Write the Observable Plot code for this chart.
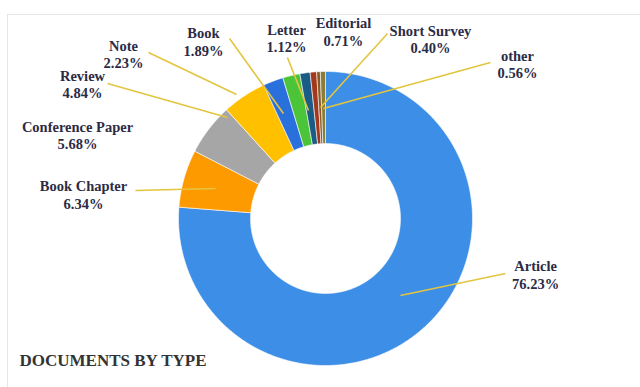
<!DOCTYPE html>
<html>
<head>
<meta charset="utf-8">
<script src="https://cdn.jsdelivr.net/npm/d3@7"></script>
<script src="https://cdn.jsdelivr.net/npm/@observablehq/plot@0.6"></script>
<style>
  html, body { margin: 0; padding: 0; background: #fff; }
  #wrap { position: relative; width: 640px; height: 387px; overflow: hidden; }
  #edge { position: absolute; left: 7px; top: 14px; right: 0; bottom: 0;
          border-top: 1px solid #e6e6e6; border-left: 1px solid #e6e6e6; pointer-events: none; }
</style>
</head>
<body>
<div id="wrap"><div id="edge"></div></div>
<script>
// ---- data ----
const types = ["Article", "Book Chapter", "Conference Paper", "Review", "Note", "Book", "Letter", "Editorial", "Short Survey", "other"];
const shares = [76.23, 6.34, 5.68, 4.84, 2.23, 1.89, 1.12, 0.71, 0.40, 0.56];
const pctLabels = ["76.23%", "6.34%", "5.68%", "4.84%", "2.23%", "1.89%", "1.12%", "0.71%", "0.40%", "0.56%"];
const title = "DOCUMENTS BY TYPE";

// ---- styles ----
const palette = ["#3d8ee6", "#fd9a00", "#a6a6a6", "#ffc000", "#2a70dc", "#4cc43a", "#1b5c86", "#a3381c", "#8b5a24", "#8a7d35"];

// ---- layout (chart units: radius of donut = 1) ----
const innerRadius = 0.51;
const labelX = [1.429, -1.646, -1.687, -1.653, -1.374, -0.830, -0.265, 0.122, 0.714, 1.306];
const labelY = [-0.381, 0.163, 0.568, 0.912, 1.119, 1.204, 1.228, 1.272, 1.218, 1.051];
// leader lines: [x1, y1, x2, y2] or null
const leaders = [
  [1.224, -0.374, 0.510, -0.524],
  [-1.293, 0.190, -0.748, 0.204],
  null,
  [-1.483, 0.918, -0.667, 0.687],
  [-1.204, 1.129, -0.605, 0.844],
  [-0.653, 1.224, -0.286, 0.714],
  [-0.259, 1.095, -0.116, 0.735],
  null,
  [0.422, 1.259, -0.034, 0.755],
  [1.122, 1.061, -0.014, 0.748]
];

// ---- build slice outlines from pie angles ----
const arcs = d3.pie().sort(null).value(d => d)(shares);
const slicePts = [];
arcs.forEach((a, i) => {
  const n = Math.max(4, Math.ceil((a.endAngle - a.startAngle) / 0.01));
  const pts = [];
  for (let k = 0; k <= n; k++) {
    const t = a.startAngle + (a.endAngle - a.startAngle) * k / n;
    pts.push({type: types[i], x: Math.sin(t), y: Math.cos(t)});
  }
  for (let k = n; k >= 0; k--) {
    const t = a.startAngle + (a.endAngle - a.startAngle) * k / n;
    pts.push({type: types[i], x: innerRadius * Math.sin(t), y: innerRadius * Math.cos(t)});
  }
  pts.push({...pts[0]});
  slicePts.push(...pts);
});

const labels = types.map((t, i) => ({text: t + "\n" + pctLabels[i], x: labelX[i], y: labelY[i]}));
const links = leaders.map((l, i) => l && {type: types[i], x1: l[0], y1: l[1], x2: l[2], y2: l[3]}).filter(Boolean);

const font = "Liberation Serif, Times New Roman, serif";

const chart = Plot.plot({
  width: 640,
  height: 387,
  margin: 0,
  style: {background: "transparent", overflow: "visible", fontFamily: font},
  x: {domain: [-1, 1], range: [178, 472], axis: null},
  y: {domain: [-1, 1], range: [365, 71], axis: null},
  color: {domain: types, range: palette},
  marks: [
    Plot.line(slicePts, {x: "x", y: "y", z: "type", fill: "type", stroke: "white", strokeWidth: 0.6, curve: "linear"}),
    Plot.link(links, {x1: "x1", y1: "y1", x2: "x2", y2: "y2", stroke: "#e3c53f", strokeWidth: 1.6}),
    Plot.text(labels, {x: "x", y: "y", text: "text", fontSize: 14.5, fontWeight: "bold", fontFamily: font,
      fill: "#2b2b45", lineHeight: 1.18, lineAnchor: "middle", textAnchor: "middle"}),
    Plot.text([title], {frameAnchor: "bottom-left", dx: 19, dy: -22, fontSize: 17, fontWeight: "bold",
      fontFamily: font, fill: "#333", textAnchor: "start", lineAnchor: "bottom"})
  ]
});
document.getElementById("wrap").appendChild(chart);
chart.style.position = "absolute";
chart.style.left = "0";
chart.style.top = "0";
</script>
</body>
</html>
